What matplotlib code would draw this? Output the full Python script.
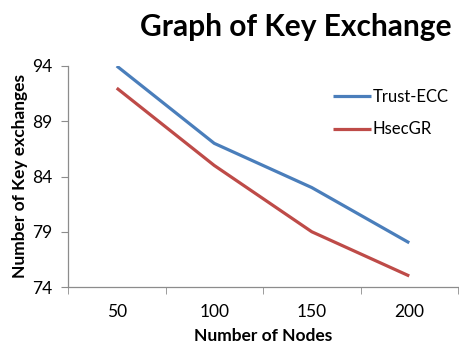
"""
Key exchange count versus number of nodes for Trust-ECC and HsecGR
"""

import numpy as np
import matplotlib
matplotlib.use('Agg')
import matplotlib.pyplot as plt

plt.rcParams['font.family'] = ['Lato', 'DejaVu Sans']

# node counts on the category axis
nodes = ['50', '100', '150', '200']
# key exchanges per scheme
trust_ecc = [94, 87, 83, 78]
hsecgr = [92, 85, 79, 75]
yticks = [74, 79, 84, 89, 94]

fig = plt.figure(figsize=(4.59, 3.44), dpi=100)
ax = fig.add_axes([68/459, 1 - 287/344, 390/459, 221/344])

x = np.arange(len(nodes))
ax.plot(x, trust_ecc, color='#4A7EBB', lw=2.3, label='Trust-ECC', solid_capstyle='butt')
ax.plot(x, hsecgr, color='#BE4B48', lw=2.3, label='HsecGR', solid_capstyle='butt')

ax.set_xlim(-0.5, len(nodes) - 0.5)
ax.set_ylim(74, 94)
ax.set_yticks(yticks)
ax.set_xticks(x)
ax.set_xticklabels(nodes)
# category boundaries carry the tick marks
ax.set_xticks(np.arange(len(nodes) + 1) - 0.5, minor=True)
ax.tick_params(axis='x', which='major', length=0, pad=12, labelsize=12.5)
ax.tick_params(axis='x', which='minor', length=5, color='#8c8c8c', direction='out')
ax.tick_params(axis='y', length=5, color='#8c8c8c', direction='out', labelsize=12.5, pad=6)

for side in ['top', 'right']:
    ax.spines[side].set_visible(False)
for side in ['left', 'bottom']:
    ax.spines[side].set_color('#8c8c8c')
    ax.spines[side].set_linewidth(0.9)

ax.set_xlabel('Number of Nodes', fontsize=12.5, fontweight='bold', labelpad=6)
ax.set_ylabel('Number of Key exchanges', fontsize=12.5, fontweight='bold', labelpad=3)

fig.text(0.645, 0.922, 'Graph of Key Exchange', fontsize=21.5, fontweight='bold',
         ha='center', va='center')

ax.legend(loc='upper left', bbox_to_anchor=(0.64, 0.965), frameon=False,
          fontsize=12, handlelength=2.3, handletextpad=0.1, labelspacing=1.0)

fig.savefig('out.png', dpi=100)
